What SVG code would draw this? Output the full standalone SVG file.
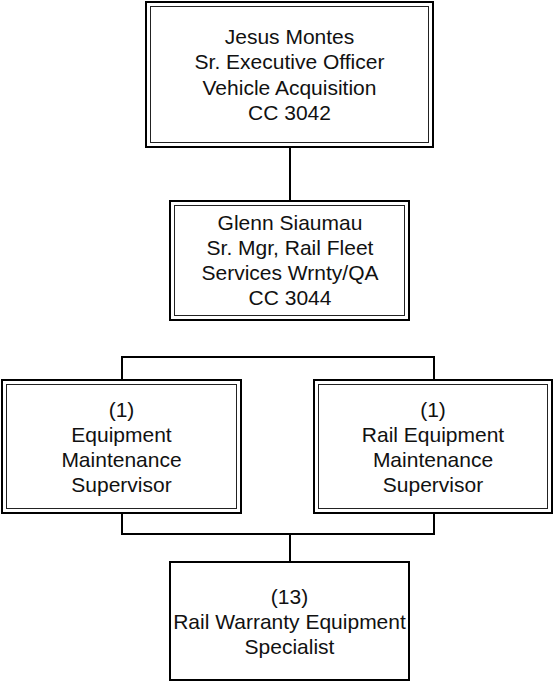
<svg xmlns="http://www.w3.org/2000/svg" width="554" height="681" viewBox="0 0 554 681">
<style>
.o{fill:#fff;stroke:#000;stroke-width:2}
.i{fill:none;stroke:#222;stroke-width:1}
.c{fill:none;stroke:#000;stroke-width:2}
text{font-family:"Liberation Sans",Arial,sans-serif;font-size:21px;fill:#111;text-anchor:middle}
</style>
<rect width="554" height="681" fill="#fff"/>
<g id="connectors">
<path class="c" d="M290 148V200"/>
<path class="c" d="M122 357H434M122 356V379M434 356V379"/>
<path class="c" d="M122 514V534M434 514V534M121 534H435M290 534V561"/>
</g>
<g id="n1">
<rect class="o" x="146" y="2" width="287" height="145"/>
<rect class="i" x="150.5" y="6.5" width="278" height="136"/>
<text x="289.5" y="43.7">Jesus Montes</text>
<text x="289.5" y="69.2">Sr. Executive Officer</text>
<text x="289.5" y="94.7">Vehicle Acquisition</text>
<text x="289.5" y="120.2">CC 3042</text>
</g>
<g id="n2">
<rect class="o" x="170" y="201" width="239" height="119"/>
<rect class="i" x="174.5" y="205.5" width="230" height="110"/>
<text x="290" y="230">Glenn Siaumau</text>
<text x="290" y="255">Sr. Mgr, Rail Fleet</text>
<text x="290" y="280">Services Wrnty/QA</text>
<text x="290" y="305">CC 3044</text>
</g>
<g id="n3">
<rect class="o" x="2" y="380" width="239" height="133"/>
<rect class="i" x="6.5" y="384.5" width="230" height="124"/>
<text x="121.5" y="416.5">(1)</text>
<text x="121.5" y="441.5">Equipment</text>
<text x="121.5" y="466.5">Maintenance</text>
<text x="121.5" y="491.5">Supervisor</text>
</g>
<g id="n4">
<rect class="o" x="314" y="380" width="238" height="133"/>
<rect class="i" x="318.5" y="384.5" width="229" height="124"/>
<text x="433" y="416.5">(1)</text>
<text x="433" y="441.5">Rail Equipment</text>
<text x="433" y="466.5">Maintenance</text>
<text x="433" y="491.5">Supervisor</text>
</g>
<g id="n5">
<rect class="o" x="170" y="562" width="239" height="118"/>
<text x="289.5" y="603.5">(13)</text>
<text x="289.5" y="628.5">Rail Warranty Equipment</text>
<text x="289.5" y="653.5">Specialist</text>
</g>
</svg>
